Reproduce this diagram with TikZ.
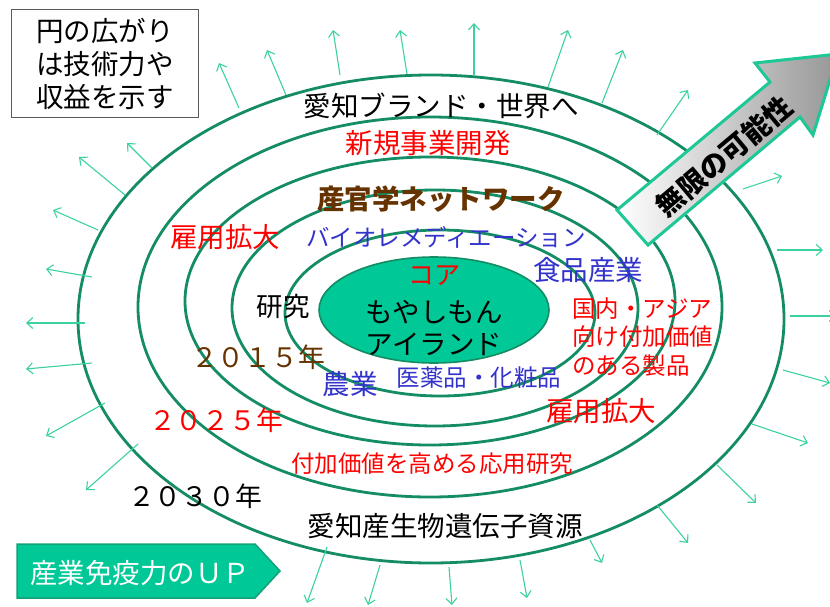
\documentclass[tikz,border=0pt]{standalone}
\usepackage{fontspec}
\setmainfont{Noto Sans CJK JP}
\usetikzlibrary{arrows.meta}
\definecolor{ringc}{RGB}{20,140,100}
\definecolor{rayc}{RGB}{60,210,160}
\definecolor{corefill}{RGB}{0,200,150}
\definecolor{txtred}{RGB}{255,0,0}
\definecolor{txtblue}{RGB}{51,51,204}
\definecolor{txtbrown}{RGB}{102,51,0}
\definecolor{arrowedge}{RGB}{30,200,150}
\definecolor{boxedge}{RGB}{90,90,90}
\definecolor{pentedge}{RGB}{20,160,120}
\tikzset{
  ringline/.style={draw=ringc, line width=2.8pt},
  rayline/.style={draw=rayc, line width=1.1pt, -{Straight Barb[length=6pt,width=11pt,line width=1.1pt]}},
  big/.style={font=\fontsize{27.5}{33}\selectfont, inner sep=0pt},
  mid/.style={font=\fontsize{23.5}{28.5}\selectfont, inner sep=0pt},
  yr/.style={font=\fontsize{26.8}{30}\selectfont, inner sep=0pt},
}
\begin{document}
\begin{tikzpicture}[x=1pt,y=-1pt]
\useasboundingbox (0,0) rectangle (830,607);
\fill[white] (0,0) rectangle (830,607);

% rings
\draw[ringline] (431,319) ellipse [x radius=353, y radius=244];
\draw[ringline] (430,307) ellipse [x radius=292, y radius=190];
\draw[ringline] (430,301) ellipse [x radius=245, y radius=144];
\draw[ringline] (435,308) ellipse [x radius=203, y radius=118];
\draw[ringline] (440,313) ellipse [x radius=155, y radius=83];
\draw[draw=ringc, line width=1.6pt, fill=corefill] (434,310) ellipse [x radius=115, y radius=53];

% radial arrows
\foreach \sx/\sy/\ex/\ey [count=\i] in {
 239/108/219/63, 286/95/267/50, 340/75/333/30, 407/74/400/30, 474/75/474/23,
 548/87/568/30, 602/103/623/50, 657/135/688/90, 743/189/782/176, 777/250/823/250,
 790/316/836/316, 783/370/830/383, 752/424/808/443, 717/465/756/503, 657/505/688/543,
 590/540/602/563, 520/560/527/598, 449/567/452/605, 380/565/368/605, 327/547/307/603,
 138/444/86/490, 105/403/46/436, 92/363/26/369, 85/323/26/323, 92/277/46/269,
 98/230/53/210, 125/195/79/157, 152/168/127/143}{
  \coordinate (rs\i) at (\sx,\sy);
  \coordinate (re\i) at (\ex,\ey);
  \draw[rayline] (rs\i) -- (re\i);
}

% big arrow
\path[draw=arrowedge, line width=3pt, line join=miter,
      left color=white, right color={rgb,255:red,150;green,150;blue,150}]
  (617,210) -- (770,82) -- (755,63) -- (838,54) -- (813,135) -- (800,117) -- (648,245) -- cycle;
\node[font=\fontsize{28}{30}\selectfont\bfseries, rotate=40, inner sep=0pt] (mugen) at (724,156) {無限の可能性};

% top-left box
\node[draw=boxedge, line width=1.3pt, minimum width=187pt, minimum height=108pt,
      anchor=north west, align=center, font=\fontsize{27.5}{33}\selectfont] (note) at (11,9)
      {円の広がり\\は技術力や\\収益を示す};

% ring labels
\node[big] (brand) at (441,106) {愛知ブランド・世界へ};
\node[big, text=txtred] (shinki) at (428,143) {新規事業開発};
\node[big, text=txtbrown, font=\fontsize{27.5}{33}\selectfont\bfseries] (sankan) at (441,199) {産官学ネットワーク};
\node[mid, text=txtblue] (bio) at (446,237) {バイオレメディエーション};
\node[big, text=txtred] (koyo1) at (225,237) {雇用拡大};
\node[big, text=txtblue] (food) at (588,270) {食品産業};
\node[font=\fontsize{26}{28}\selectfont, inner sep=0pt, text=txtred] (core) at (434,276) {コア};
\node[font=\fontsize{27.5}{32}\selectfont, inner sep=0pt, align=center] (moya) at (434,328) {もやしもん\\アイランド};
\node[font=\fontsize{26.5}{28}\selectfont, inner sep=0pt] (kenkyu) at (283,306) {研究};
\node[yr, text=txtbrown] (y2015) at (258,357) {２０１５年};
\node[big, text=txtblue] (nogyo) at (350,384) {農業};
\node[mid, text=txtblue] (iyaku) at (479,378) {医薬品・化粧品};
\node[mid, text=txtred, align=left, anchor=west] (kokunai) at (572,337) {国内・アジア\\向け付加価値\\のある製品};
\node[big, text=txtred] (koyo2) at (601,411) {雇用拡大};
\node[yr, text=txtred] (y2025) at (216,420) {２０２５年};
\node[mid, text=txtred] (fuka) at (432,464) {付加価値を高める応用研究};
\node[yr] (y2030) at (195,496) {２０３０年};
\node[big] (iden) at (445,526) {愛知産生物遺伝子資源};

% bottom-left pentagon
\path[fill=corefill, draw=pentedge, line width=1.5pt]
  (17,544) -- (255,544) -- (280,571) -- (255,598) -- (17,598) -- cycle;
\node[big, text=white] (menek) at (140,573) {産業免疫力のＵＰ};
\end{tikzpicture}
\end{document}
